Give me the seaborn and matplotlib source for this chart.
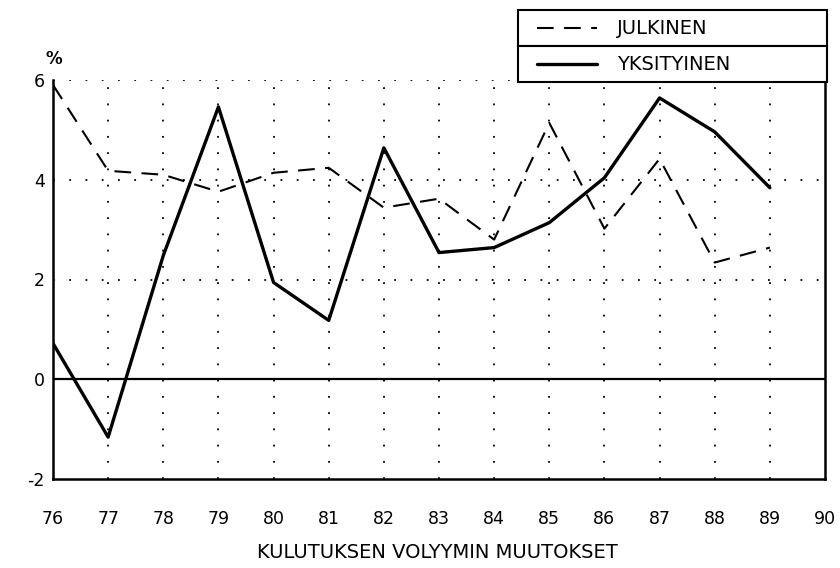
import matplotlib
matplotlib.use("Agg")
import matplotlib.pyplot as plt
from matplotlib.lines import Line2D
from matplotlib.patches import Rectangle
import seaborn as sns
import pandas as pd

years = [76, 77, 78, 79, 80, 81, 82, 83, 84, 85, 86, 87, 88, 89]
julkinen = [5.9, 4.18, 4.1, 3.76, 4.14, 4.24, 3.44, 3.62, 2.8, 5.14, 3.02, 4.42, 2.34, 2.64]
yksityinen = [0.72, -1.16, 2.48, 5.46, 1.94, 1.18, 4.64, 2.54, 2.64, 3.14, 4.04, 5.64, 4.96, 3.84]
series_names = ["JULKINEN", "YKSITYINEN"]
x_ticks = list(range(76, 91))
y_ticks = [-2, 0, 2, 4, 6]
x_title = "KULUTUKSEN VOLYYMIN MUUTOKSET"
y_unit = "%"

df = pd.concat([
    pd.DataFrame({"year": years, "value": julkinen, "series": series_names[0]}),
    pd.DataFrame({"year": years, "value": yksityinen, "series": series_names[1]}),
])

sns.set_style("white")
plt.rcParams["font.family"] = ["DejaVu Sans"]
plt.rcParams["text.color"] = "black"
plt.rcParams["xtick.color"] = "black"
plt.rcParams["ytick.color"] = "black"
plt.rcParams["axes.labelcolor"] = "black"

fig = plt.figure(figsize=(8.4, 5.68), dpi=100)
ax = fig.add_axes([53 / 840, 1 - 479 / 568, (825 - 53) / 840, (479 - 80) / 568])

# grid
for xv in x_ticks[1:-1]:
    ax.axvline(xv, color="black", lw=1.3, linestyle=(0, (1, 8)), zorder=1)
for yv in [2, 4, 6]:
    ax.axhline(yv, color="black", lw=1.3, linestyle=(0, (1, 8)), zorder=1)
ax.axhline(0, color="black", lw=1.6, zorder=1)

DASH = (8, 5)
sns.lineplot(data=df, x="year", y="value", style="series", ax=ax,
             dashes={series_names[0]: DASH, series_names[1]: ""},
             color="black", legend=False, zorder=3)
for line, lw in zip(ax.get_lines()[-2:], [1.5, 2.4]):
    line.set_linewidth(lw)

ax.set_xlim(76, 90)
ax.set_ylim(-2, 6)
ax.set_xticks(x_ticks)
ax.set_xticklabels([str(v) for v in x_ticks])
ax.set_yticks(y_ticks)
ax.set_yticklabels([str(v) for v in y_ticks])
ax.tick_params(axis="x", length=0, pad=22, labelsize=12.5)
ax.tick_params(axis="y", length=0, pad=6, labelsize=12.5)
ax.set_xlabel(x_title, fontsize=14)
ax.xaxis.label.set_va("center")
ax.xaxis.set_label_coords((437 - 53) / (825 - 53), -(552 - 479) / (479 - 80))
ax.set_ylabel("")

for side in ["left", "bottom", "right"]:
    ax.spines[side].set_visible(True)
    ax.spines[side].set_color("black")
    ax.spines[side].set_linewidth(1.8)
ax.spines["top"].set_visible(False)

fig.text(54 / 840, 1 - 59 / 568, y_unit, ha="center", va="center", fontsize=12, fontweight="bold")

# manual legend with boxed rows
W, H = 840, 568
rows = [(10, 46, DASH, 1.5), (46, 82, None, 2.4)]
for (y0, y1, dash, lw), name in zip(rows, series_names):
    fig.add_artist(Rectangle((518 / W, 1 - y1 / H), (827 - 518) / W, (y1 - y0) / H,
                             transform=fig.transFigure, fill=True, facecolor="white",
                             edgecolor="black", lw=1.5, zorder=5))
    yc = 1 - (y0 + y1) / 2 / H
    ln = Line2D([537 / W, 597 / W], [yc, yc], transform=fig.transFigure,
                color="black", lw=lw, zorder=6)
    if dash:
        ln.set_dashes(dash)
    fig.add_artist(ln)
    fig.text(617 / W, yc, name, ha="left", va="center", fontsize=14, zorder=7)

fig.savefig("out.png", dpi=100)
